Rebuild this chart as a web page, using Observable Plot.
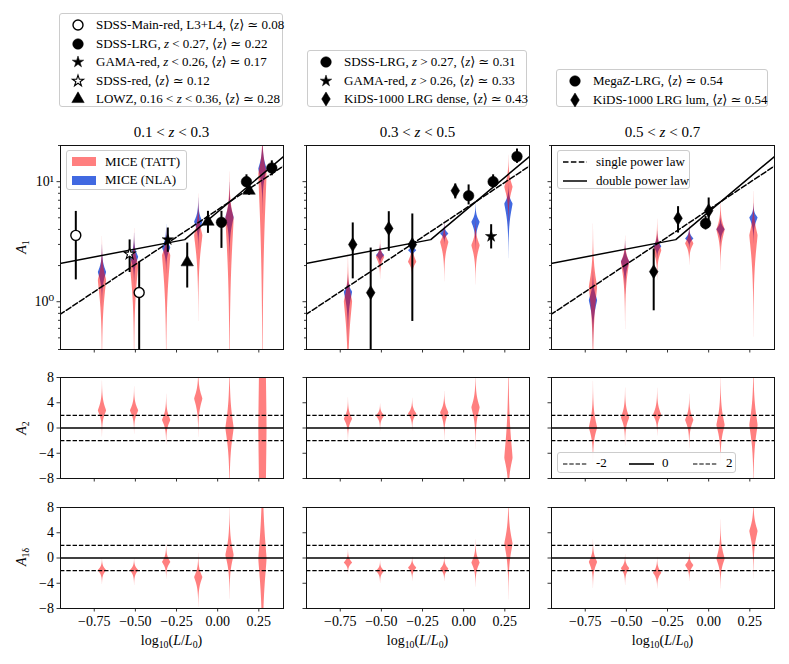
<!DOCTYPE html>
<html><head><meta charset="utf-8">
<script src="https://cdn.jsdelivr.net/npm/d3@7"></script>
<script src="https://cdn.jsdelivr.net/npm/@observablehq/plot@0.6"></script>
<style>
body{margin:0;background:#fff;}
#fig{position:relative;width:789px;height:664px;font-family:"Liberation Serif","DejaVu Serif",serif;color:#000;overflow:hidden;background:#fff;}
#fig svg{position:absolute;}
.lg{position:absolute;border:1px solid #cccccc;border-radius:3px;background:rgba(255,255,255,0.85);box-sizing:border-box;}
.row{position:absolute;height:18px;line-height:18px;font-size:13px;white-space:nowrap;}
.sym{position:absolute;}
.ttl{position:absolute;font-size:15px;white-space:nowrap;transform:translate(-50%,-50%);}
.ylab{position:absolute;font-size:14px;white-space:nowrap;transform:translate(-50%,-50%) rotate(-90deg);}
.xlab{position:absolute;font-size:14px;white-space:nowrap;transform:translate(-50%,-50%);}
sub{font-size:70%;vertical-align:-0.3em;line-height:0;}
</style></head>
<body><div id="fig"></div>
<script>
// ---------------- data ----------------
const xTicks = [-0.75, -0.5, -0.25, 0, 0.25];
const xTickLabels = ["\u22120.75", "\u22120.50", "\u22120.25", "0.00", "0.25"];
const xDomain = [-0.955, 0.40];
const a1Domain = [0.4, 20];
const a1Major = [1, 10];
const a1MajorLabels = ["10\u2070", "10\u00b9"];
const a1Minor = [0.4, 0.5, 0.6, 0.7, 0.8, 0.9, 2, 3, 4, 5, 6, 7, 8, 9, 20];
const aDomain = [-8, 8];
const aTicks = [-8, -4, 0, 4, 8];
const aTickLabels = ["\u22128", "\u22124", "0", "4", "8"];
const zBins = ["0.1 &lt; <i>z</i> &lt; 0.3", "0.3 &lt; <i>z</i> &lt; 0.5", "0.5 &lt; <i>z</i> &lt; 0.7"];
const rowLabels = ["<i>A</i><sub>1</sub>", "<i>A</i><sub>2</sub>", "<i>A</i><sub>1\u03b4</sub>"];

// MICE luminance bins (log10 L/L0)
const binX = [-0.70, -0.505, -0.31, -0.115, 0.075, 0.275];

// violins: per redshift bin, per luminance bin: [peak, upper end, lower end]
const a1Tatt = [
  [[1.50, 2.66, 0.43], [2.0, 3.24, 0.47], [2.42, 3.44, 0.47], [3.55, 6.1, 1.16], [4.9, 9.0, 0.42], [11.6, 22, 0.42]],
  [[1.0, 1.86, 0.25], [2.34, 2.93, 1.76], [2.13, 2.95, 1.70], [3.12, 4.17, 1.87], [2.93, 4.17, 1.76], [8.97, 13.6, 5.4]],
  [[1.32, 3.0, 0.35], [2.13, 3.0, 0.89], [2.66, 4.0, 1.81], [3.03, 4.0, 2.3], [3.95, 5.9, 2.34], [3.55, 6.3, 0.95]]
];
const a1Nla = [
  [[1.75, 2.5, 1.12], [2.34, 3.2, 1.6], [2.8, 3.8, 2.0], [4.6, 6.3, 3.2], [5.0, 7.9, 2.8], [12.7, 20, 7.1]],
  [[1.2, 1.5, 0.63], [2.42, 2.8, 2.1], [2.66, 3.0, 2.35], [3.66, 4.2, 3.2], [4.58, 5.9, 3.2], [6.5, 8.4, 3.2]],
  [[1.02, 1.58, 0.56], [2.14, 2.8, 1.41], [2.87, 3.5, 2.4], [3.33, 3.9, 2.9], [3.98, 4.8, 3.2], [4.98, 6.0, 3.55]]
];
const a2Tatt = [
  [[2.7, 5.9, -0.1], [2.7, 5.3, 0.2], [1.2, 4.0, -1.4], [4.6, 8.0, 0.5], [-0.1, 8.0, -8.0], [0.0, 80, -80]],
  [[1.4, 3.7, -0.9], [1.9, 3.2, 0.3], [2.2, 3.9, 0.4], [2.4, 4.7, -0.5], [3.2, 7.0, -1.3], [-4.8, 8.0, -10]],
  [[0.0, 5.0, -4.0], [1.6, 4.8, -1.4], [2.0, 4.9, -0.2], [1.2, 4.0, -1.8], [0.4, 5.9, -4.0], [0.4, 8.0, -7.2]]
];
const a1dTatt = [
  [[-2.0, -0.7, -3.5], [-2.0, -0.7, -3.6], [-0.7, 1.25, -2.5], [-3.1, -0.5, -6.3], [0.4, 5.8, -4.3], [-0.2, 14, -14]],
  [[-0.8, 0.6, -2.0], [-2.1, -1.0, -3.4], [-1.6, -0.4, -3.0], [-1.8, -0.4, -3.1], [-0.8, 1.7, -3.4], [2.2, 7.9, -3.8]],
  [[-0.7, 1.7, -3.5], [-1.7, -0.2, -3.5], [-2.4, -0.7, -4.1], [-1.2, 0.2, -2.9], [-0.2, 4.0, -3.4], [4.2, 7.9, -0.9]]
];

// observational measurements
const obsPanel = [0,0,0,0,0,0,0,0,0,0, 1,1,1,1,1,1,1,1,1, 2,2,2,2];
const obsSample = [
  "SDSS-Main-red","SDSS-Main-red","SDSS-red","GAMA-red","LOWZ","LOWZ","LOWZ","SDSS-LRG","SDSS-LRG","SDSS-LRG",
  "KiDS-dense","KiDS-dense","KiDS-dense","KiDS-dense","KiDS-dense","SDSS-LRG","SDSS-LRG","SDSS-LRG","GAMA-red",
  "KiDS-lum","KiDS-lum","KiDS-lum","MegaZ"
];
const obsLogL = [-0.862,-0.477,-0.535,-0.303,-0.185,-0.059,0.191,0.023,0.175,0.329,
  -0.674,-0.565,-0.455,-0.312,-0.051,0.030,0.179,0.324,0.167,
  -0.334,-0.186,0.0,-0.019];
const obsA1 = [3.57,1.195,2.50,3.29,2.13,4.64,8.41,4.58,10.0,13.0,
  2.99,1.19,4.08,2.99,8.41,7.64,10.0,16.2,3.50,
  1.78,4.95,5.73,4.49];
const obsA1Lo = [1.52,0.1,1.75,2.58,1.30,3.71,7.7,2.78,8.97,11.2,
  1.55,0.1,2.63,0.685,7.18,6.4,8.97,14.2,2.75,
  0.84,3.73,4.53,3.96];
const obsA1Hi = [5.65,2.13,3.27,4.11,3.08,5.66,9.2,5.66,11.4,14.9,
  4.53,2.80,5.62,5.38,9.56,9.39,11.4,18.7,4.38,
  2.75,6.19,7.31,5.12];

// fitted models (same in every panel)
const singleLogL = [-0.96, 0.40];
const singleA1 = [0.78, 13.5];
const doubleLogL = [-0.96, -0.20, 0.40];
const doubleA1 = [2.08, 3.29, 16.2];

// legend labels
const legendTop = [
  [["openCircle", "SDSS-Main-red, L3+L4, \u27e8<i>z</i>\u27e9 \u2243 0.08"],
   ["circle", "SDSS-LRG, <i>z</i> &lt; 0.27, \u27e8<i>z</i>\u27e9 \u2243 0.22"],
   ["star", "GAMA-red, <i>z</i> &lt; 0.26, \u27e8<i>z</i>\u27e9 \u2243 0.17"],
   ["openStar", "SDSS-red, \u27e8<i>z</i>\u27e9 \u2243 0.12"],
   ["triangle", "LOWZ, 0.16 &lt; <i>z</i> &lt; 0.36, \u27e8<i>z</i>\u27e9 \u2243 0.28"]],
  [["circle", "SDSS-LRG, <i>z</i> &gt; 0.27, \u27e8<i>z</i>\u27e9 \u2243 0.31"],
   ["star", "GAMA-red, <i>z</i> &gt; 0.26, \u27e8<i>z</i>\u27e9 \u2243 0.33"],
   ["thinDiamond", "KiDS-1000 LRG dense, \u27e8<i>z</i>\u27e9 \u2243 0.43"]],
  [["circle", "MegaZ-LRG, \u27e8<i>z</i>\u27e9 \u2243 0.54"],
   ["thinDiamond", "KiDS-1000 LRG lum, \u27e8<i>z</i>\u27e9 \u2243 0.54"]]
];
const miceLabels = ["MICE (TATT)", "MICE (NLA)"];
const fitLabels = ["single power law", "double power law"];
const refLabels = ["-2", "0", "2"];

// ---------------- styling / layout ----------------
const RED = "#ff0000", BLUE = "#4169e1";
const HALF_W = 0.025;
const PW = 223;
const colLeft = [60, 306, 551];
const rowTop = [145, 377, 507];
const rowH = [204, 101, 101];
const FONT = '"Liberation Serif","DejaVu Serif",serif';

const thinDiamond = {
  draw(ctx, size) {
    const r = Math.sqrt(size / Math.PI);
    ctx.moveTo(0, -1.3 * r); ctx.lineTo(0.8 * r, 0); ctx.lineTo(0, 1.3 * r); ctx.lineTo(-0.8 * r, 0); ctx.closePath();
  }
};
const markers = {
  openCircle: {symbol: "circle", r: 5, fill: "white", stroke: "black", strokeWidth: 1.4},
  circle: {symbol: "circle", r: 5.3, fill: "black", stroke: "black", strokeWidth: 0.5},
  star: {symbol: "star", r: 3.6, fill: "black", stroke: "black", strokeWidth: 0.5},
  openStar: {symbol: "star", r: 3.5, fill: "white", stroke: "black", strokeWidth: 1.1},
  triangle: {symbol: "triangle", r: 4.6, fill: "black", stroke: "black", strokeWidth: 0.5},
  thinDiamond: {symbol: thinDiamond, r: 5.4, fill: "black", stroke: "black", strokeWidth: 0.5}
};
const sampleMarker = {
  "SDSS-Main-red": "openCircle", "SDSS-LRG": "circle", "GAMA-red": "star", "SDSS-red": "openStar",
  "LOWZ": "triangle", "KiDS-dense": "thinDiamond", "MegaZ": "circle", "KiDS-lum": "thinDiamond"
};

const obs = obsPanel.map((p, i) => ({panel: p, sample: obsSample[i], x: obsLogL[i], y: obsA1[i], lo: obsA1Lo[i], hi: obsA1Hi[i], m: sampleMarker[obsSample[i]]}));
const singleLine = singleLogL.map((x, i) => ({x, y: singleA1[i]}));
const doubleLine = doubleLogL.map((x, i) => ({x, y: doubleA1[i]}));

function violinRows(params, log, tag) {
  const rows = [];
  const f = log ? Math.log10 : (v => v);
  params.forEach(([c, hi, lo], i) => {
    const C = f(c), sU = (f(hi) - C) / 2.3, sD = (C - f(lo)) / 2.3;
    for (let k = -60; k <= 60; k++) {
      const u = k / 60 * 3.4;
      const v = C + u * (u >= 0 ? sU : sD);
      const w = HALF_W * Math.exp(-Math.pow(Math.abs(u), 1.25));
      rows.push({id: tag + i, y: log ? Math.pow(10, v) : v, x1: binX[i] - w, x2: binX[i] + w});
    }
  });
  return rows;
}

const fig = document.getElementById("fig");

function makePanel(row, col) {
  const mL = 45, mR = 8, mT = 8, mB = row === 2 ? 30 : 10;
  const marks = [];
  const violin = (rows, fill, op) => Plot.areaX(rows, {y: "y", x1: "x1", x2: "x2", z: "id", fill, fillOpacity: op, clip: true});
  if (row === 0) {
    marks.push(violin(violinRows(a1Nla[col], true, "n"), BLUE, 1));
    marks.push(violin(violinRows(a1Tatt[col], true, "t"), RED, 0.5));
    marks.push(Plot.line(singleLine, {x: "x", y: "y", stroke: "black", strokeWidth: 1.5, strokeDasharray: "5.5,2.4", clip: true}));
    marks.push(Plot.line(doubleLine, {x: "x", y: "y", stroke: "black", strokeWidth: 1.5, clip: true}));
    const pts = obs.filter(d => d.panel === col);
    marks.push(Plot.ruleX(pts, {x: "x", y1: "lo", y2: "hi", stroke: "black", strokeWidth: 2, clip: true}));
    for (const key of Object.keys(markers)) {
      const sub = pts.filter(d => d.m === key);
      if (sub.length) marks.push(Plot.dot(sub, {x: "x", y: "y", ...markers[key]}));
    }
    marks.push(Plot.axisY({ticks: a1Minor, tickSize: 2, fill: "none", label: null, strokeWidth: 0.8}));
    marks.push(Plot.axisY({ticks: a1Major, tickSize: 3.5, tickPadding: 3, strokeWidth: 0.8,
      tickFormat: d => a1MajorLabels[a1Major.indexOf(d)], fill: col === 0 ? "black" : "none", label: null}));
  } else {
    const v = row === 1 ? a2Tatt[col] : a1dTatt[col];
    marks.push(violin(violinRows(v, false, "t"), RED, 0.5));
    marks.push(Plot.ruleY([-2, 2], {stroke: "black", strokeWidth: 1.2, strokeDasharray: "4.4,1.9"}));
    marks.push(Plot.ruleY([0], {stroke: "black", strokeWidth: 1.6}));
    marks.push(Plot.axisY({ticks: aTicks, tickSize: 3.5, tickPadding: 3, strokeWidth: 0.8,
      tickFormat: d => aTickLabels[aTicks.indexOf(d)], fill: col === 0 ? "black" : "none", label: null}));
  }
  marks.push(Plot.axisX({ticks: xTicks, tickSize: 3.5, tickPadding: 4, strokeWidth: 0.8,
    tickFormat: d => xTickLabels[xTicks.indexOf(d)], fill: row === 2 ? "black" : "none", label: null}));
  marks.push(Plot.frame({stroke: "#111", strokeWidth: 1}));

  const svg = Plot.plot({
    width: mL + PW + mR, height: mT + rowH[row] + mB,
    marginLeft: mL, marginRight: mR, marginTop: mT, marginBottom: mB,
    x: {domain: xDomain},
    y: row === 0 ? {type: "log", domain: a1Domain} : {domain: aDomain},
    style: {fontFamily: FONT, fontSize: "14px", background: "transparent", overflow: "visible", color: "black"},
    marks
  });
  svg.style.position = "absolute";
  svg.style.left = (colLeft[col] - mL) + "px";
  svg.style.top = (rowTop[row] - mT) + "px";
  fig.appendChild(svg);
}

for (let r = 0; r < 3; r++) for (let c = 0; c < 3; c++) makePanel(r, c);

// ---------------- text & legends ----------------
function el(cls, html, css) {
  const d = document.createElement("div");
  d.className = cls; d.innerHTML = html; Object.assign(d.style, css); fig.appendChild(d); return d;
}
zBins.forEach((t, c) => el("ttl", t, {left: (colLeft[c] + PW / 2) + "px", top: "132px"}));
const rowLabelY = [247, 428, 557];
rowLabels.forEach((t, r) => el("ylab", t, {left: "22px", top: rowLabelY[r] + "px"}));
colLeft.forEach(l => el("xlab", "log<sub>10</sub>(<i>L</i>/<i>L</i><sub>0</sub>)", {left: (l + PW / 2) + "px", top: "641px"}));

function symbolSvg(key) {
  const m = markers[key];
  const type = typeof m.symbol === "string" ? {circle: d3.symbolCircle, star: d3.symbolStar, triangle: d3.symbolTriangle}[m.symbol] : m.symbol;
  const path = d3.symbol(type, Math.PI * m.r * m.r)();
  return `<svg width="16" height="16" viewBox="-8 -8 16 16" style="position:absolute;left:-8px;top:-8px;overflow:visible"><path d="${path}" fill="${m.fill}" stroke="${m.stroke}" stroke-width="${m.strokeWidth}"/></svg>`;
}
const topBoxes = [
  {left: 59, top: 13, width: 224},
  {left: 307, top: 50, width: 220},
  {left: 556, top: 69, width: 212}
];
legendTop.forEach((entries, b) => {
  const box = topBoxes[b];
  const h = 18.6 * entries.length + 1;
  const d = el("lg", "", {left: box.left + "px", top: box.top + "px", width: box.width + "px", height: h + "px"});
  entries.forEach(([key, label], i) => {
    const cy = 11 + 18.6 * i;
    const s = document.createElement("div");
    s.className = "sym"; s.style.left = "18px"; s.style.top = cy + "px"; s.innerHTML = symbolSvg(key);
    d.appendChild(s);
    const t = document.createElement("div");
    t.className = "row"; t.style.left = "36px"; t.style.top = (cy - 9) + "px"; t.innerHTML = label;
    d.appendChild(t);
  });
});

// MICE legend (panel 1)
{
  const d = el("lg", "", {left: "66px", top: "150px", width: "121px", height: "40px"});
  [[RED, 0.5], [BLUE, 1]].forEach(([c, op], i) => {
    const cy = 10.5 + 18.6 * i;
    const s = document.createElement("div");
    Object.assign(s.style, {position: "absolute", left: "5px", top: (cy - 4.5) + "px", width: "24px", height: "9px", background: c, opacity: op});
    d.appendChild(s);
    const t = document.createElement("div");
    t.className = "row"; t.style.left = "38px"; t.style.top = (cy - 9) + "px"; t.textContent = miceLabels[i];
    d.appendChild(t);
  });
}
// fit legend (panel 3)
{
  const d = el("lg", "", {left: "557px", top: "150px", width: "133px", height: "39px"});
  ["5.5,2.4", null].forEach((dash, i) => {
    const cy = 11 + 18.6 * i;
    const s = document.createElement("div");
    s.className = "sym"; s.style.left = "5px"; s.style.top = (cy - 2) + "px";
    s.innerHTML = `<svg width="24" height="4" style="position:absolute;left:0;top:0"><line x1="0" x2="24" y1="2" y2="2" stroke="black" stroke-width="1.5" ${dash ? `stroke-dasharray="${dash}"` : ""}/></svg>`;
    d.appendChild(s);
    const t = document.createElement("div");
    t.className = "row"; t.style.left = "38px"; t.style.top = (cy - 9) + "px"; t.textContent = fitLabels[i];
    d.appendChild(t);
  });
}
// reference-line legend (A2, panel 3)
{
  const d = el("lg", "", {left: "557px", top: "452px", width: "179px", height: "21px"});
  const xs = [5, 71, 135];
  [["4.4,1.9", 1.2], [null, 1.6], ["4.4,1.9", 1.2]].forEach(([dash, sw], i) => {
    const s = document.createElement("div");
    s.className = "sym"; s.style.left = xs[i] + "px"; s.style.top = "8.5px";
    s.innerHTML = `<svg width="25" height="4" style="position:absolute;left:0;top:0"><line x1="0" x2="25" y1="2" y2="2" stroke="black" stroke-width="${sw}" ${dash ? `stroke-dasharray="${dash}"` : ""}/></svg>`;
    d.appendChild(s);
    const t = document.createElement("div");
    t.className = "row"; t.style.left = (xs[i] + 33) + "px"; t.style.top = "1px"; t.textContent = refLabels[i];
    d.appendChild(t);
  });
}
</script>
</body></html>
